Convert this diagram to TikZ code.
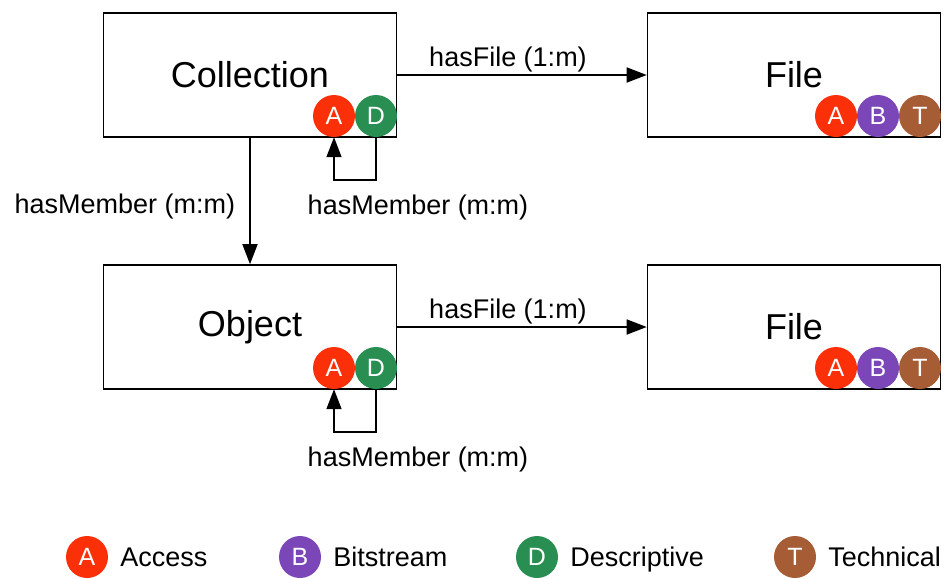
\documentclass[tikz,border=0pt]{standalone}
\usepackage{fontspec}
\setmainfont{Liberation Sans}
\usetikzlibrary{arrows.meta,positioning}

\definecolor{accessred}{RGB}{252,48,8}
\definecolor{bitpurple}{RGB}{122,70,184}
\definecolor{descgreen}{RGB}{40,142,82}
\definecolor{techbrown}{RGB}{166,92,52}

\begin{document}
\begin{tikzpicture}[x=1pt, y=-1pt,
        entitybox/.style={draw, rectangle, minimum width=293pt, minimum height=124pt, line width=1.6pt, inner sep=0pt, font=\fontsize{36}{40}\selectfont},
        badge/.style={circle, minimum size=42pt, inner sep=0pt, text=white, font=\fontsize{25}{28}\selectfont},
        lbl/.style={inner sep=0pt, text height=22pt, text depth=3pt, font=\fontsize{27}{30}\selectfont},
        arrow/.style={-{Triangle[length=20pt, width=15pt]}, line width=1.6pt}
    ]
    \useasboundingbox (0,0) rectangle (944,578);

    % --- ROW 1: Collection and its files ---
    \node[entitybox] (collection) at (250,75) {Collection};
    \node[entitybox] (colfile) at (794,75) {File};
    \node[badge, fill=accessred] (colA) at (334,116) {A};
    \node[badge, fill=descgreen] (colD) at (376,116) {D};
    \node[badge, fill=accessred] (colfileA) at (836,116) {A};
    \node[badge, fill=bitpurple] (colfileB) at (878,116) {B};
    \node[badge, fill=techbrown] (colfileT) at (920,116) {T};

    % --- ROW 2: Object and its files ---
    \node[entitybox] (object) at (250,327) {Object};
    \node[entitybox] (objfile) at (794,327) {File};
    \node[badge, fill=accessred] (objA) at (334,368) {A};
    \node[badge, fill=descgreen] (objD) at (376,368) {D};
    \node[badge, fill=accessred] (objfileA) at (836,368) {A};
    \node[badge, fill=bitpurple] (objfileB) at (878,368) {B};
    \node[badge, fill=techbrown] (objfileT) at (920,368) {T};

    % --- ARROWS ---
    \draw[arrow] (collection.east) -- node[lbl, above=5pt, xshift=-14pt] {hasFile (1:m)} (colfile.west);
    \draw[arrow] (object.east) -- node[lbl, above=5pt, xshift=-14pt] {hasFile (1:m)} (objfile.west);
    \draw[arrow] (collection.south) -- node[lbl, left=14pt, yshift=-3pt] {hasMember (m:m)} (object.north);

    % --- Self loops ---
    \draw[arrow] (colD.south) -- ++(0,43) -| (colA.south);
    \node[lbl] (colloop) at (418,205) {hasMember (m:m)};
    \draw[arrow] (objD.south) -- ++(0,43) -| (objA.south);
    \node[lbl] (objloop) at (418,457) {hasMember (m:m)};

    % --- Legend ---
    \node[badge, fill=accessred] (legA) at (87,557) {A};
    \node[lbl, right=12pt of legA] (legAtext) {Access};
    \node[badge, fill=bitpurple] (legB) at (300,557) {B};
    \node[lbl, right=12pt of legB] (legBtext) {Bitstream};
    \node[badge, fill=descgreen] (legD) at (537,557) {D};
    \node[lbl, right=12pt of legD] (legDtext) {Descriptive};
    \node[badge, fill=techbrown] (legT) at (795,557) {T};
    \node[lbl, right=12pt of legT] (legTtext) {Technical};

    \end{tikzpicture}
\end{document}
